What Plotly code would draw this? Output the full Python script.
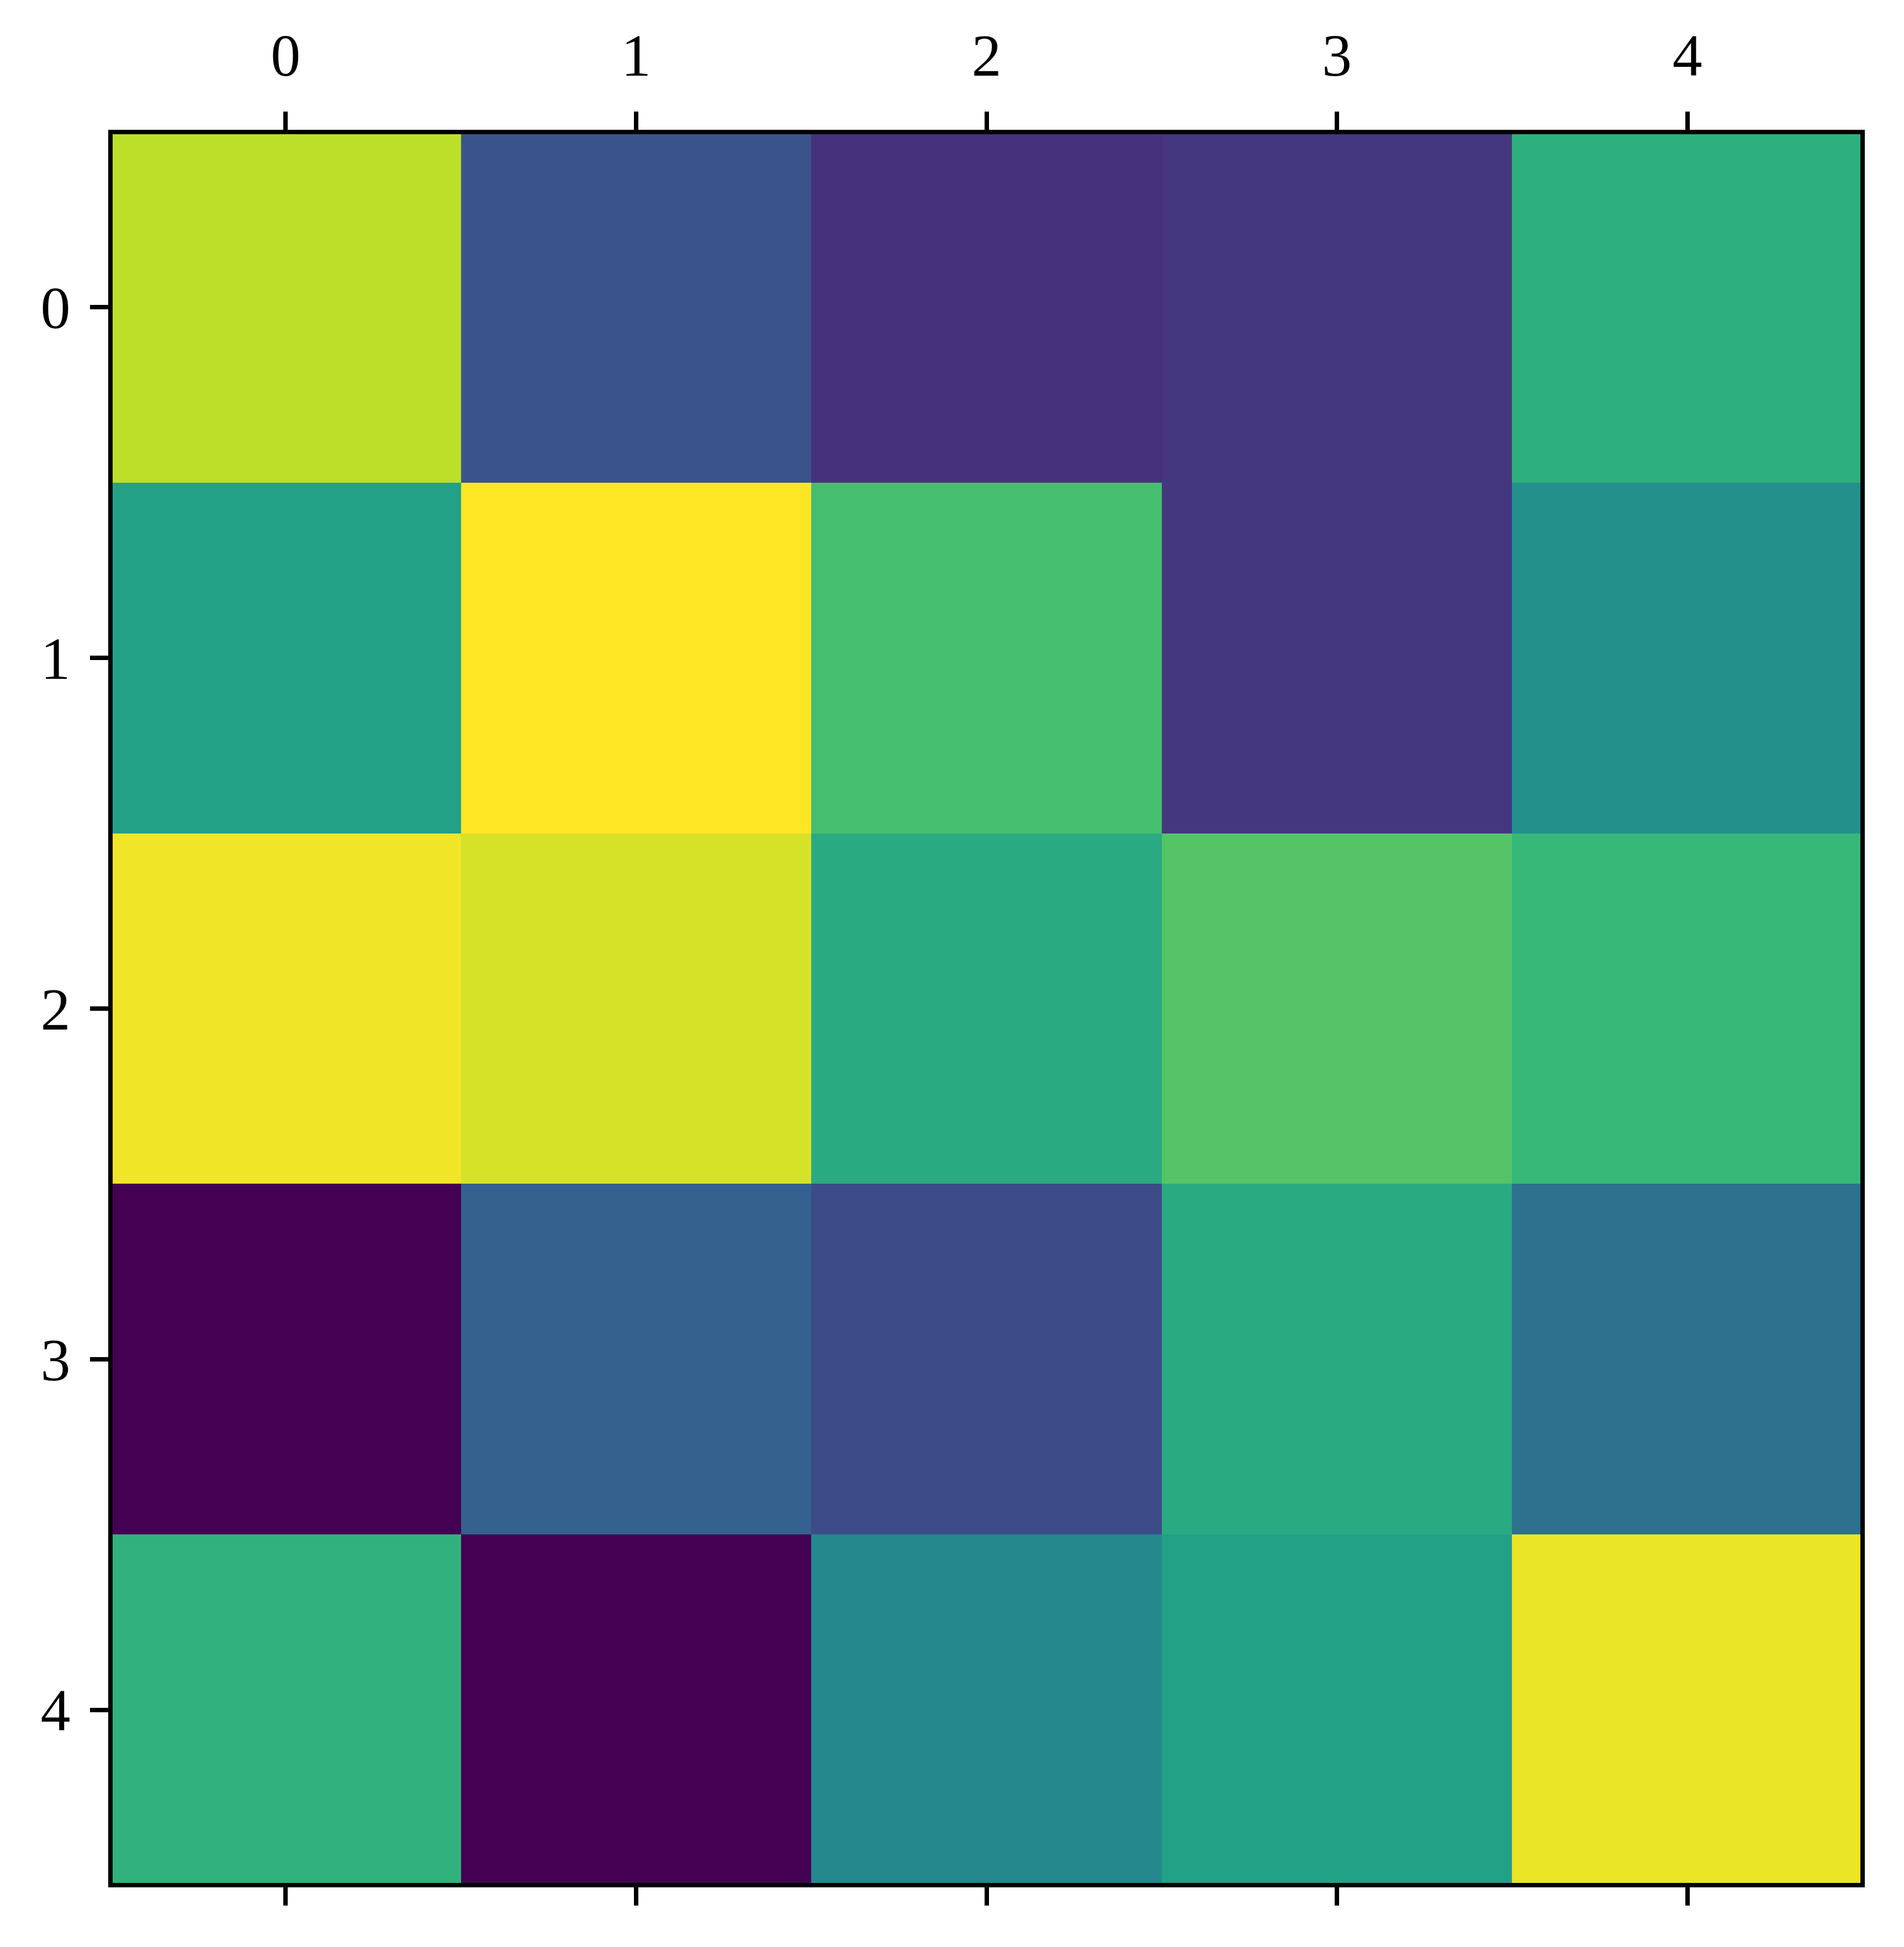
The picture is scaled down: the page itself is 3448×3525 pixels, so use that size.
import plotly.graph_objects as go

cols = [0, 1, 2, 3, 4]
rows = [0, 1, 2, 3, 4]
tick_labels = ["0", "1", "2", "3", "4"]
row0 = [0.90, 0.26, 0.14, 0.16, 0.63]
row1 = [0.57, 1.00, 0.70, 0.16, 0.50]
row2 = [0.98, 0.94, 0.61, 0.73, 0.67]
row3 = [0.00, 0.31, 0.23, 0.61, 0.37]
row4 = [0.64, 0.00, 0.47, 0.57, 0.97]
z = [row0, row1, row2, row3, row4]

# page body has an 8px default margin, so the figure is offset by 8px
OFF = 8
W, H = 3448 - OFF, 3525 - OFF
L, R, T, B = 200 - OFF, 3373 - OFF, 239 - OFF, 3413 - OFF

fig = go.Figure()
fig.add_trace(go.Heatmap(z=z, x=cols, y=rows, colorscale="Viridis", zmin=0, zmax=1,
                         showscale=False, hoverinfo="skip"))
# invisible trace for bottom axis ticks
fig.add_trace(go.Scatter(x=[0], y=[0], xaxis="x2", mode="markers",
                         marker=dict(opacity=0), showlegend=False, hoverinfo="skip"))

font = dict(family="Liberation Serif, Times New Roman, Times, serif", size=108, color="black")
common = dict(tickmode="array", tickvals=cols, ticks="outside", ticklen=36, tickwidth=8,
              tickcolor="black", showgrid=False, zeroline=False, showline=False,
              tickfont=font)

fig.update_layout(
    width=W, height=H,
    margin=dict(l=L, r=W - R, t=T, b=H - B),
    paper_bgcolor="white", plot_bgcolor="white",
    xaxis=dict(side="top", range=[-0.5, 4.5], ticktext=tick_labels,
               ticklabelstandoff=22, **common),
    xaxis2=dict(side="bottom", overlaying="x", range=[-0.5, 4.5], showticklabels=False,
                ticktext=tick_labels, matches="x", **common),
    yaxis=dict(range=[4.5, -0.5], ticktext=tick_labels, ticklabelstandoff=14, **common),
    shapes=[dict(type="rect", xref="paper", yref="paper", x0=0, x1=1, y0=0, y1=1,
                 line=dict(color="black", width=8), layer="above")],
)
fig.write_html("out.html")
